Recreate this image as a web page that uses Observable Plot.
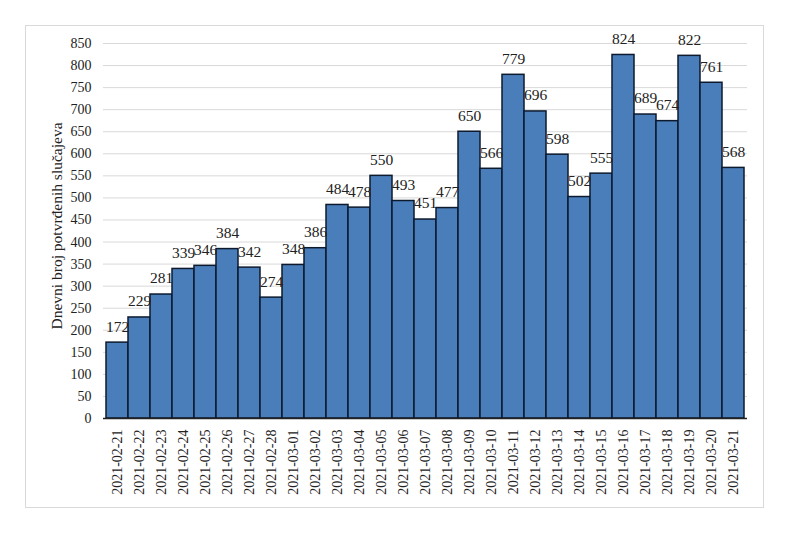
<!DOCTYPE html>
<html>
<head>
<meta charset="utf-8">
<script src="https://cdn.jsdelivr.net/npm/d3@7"></script>
<script src="https://cdn.jsdelivr.net/npm/@observablehq/plot@0.6"></script>
<style>
  html, body { margin: 0; padding: 0; background: #fff; }
  #chart { position: relative; width: 800px; height: 533px; }
</style>
</head>
<body>
<div id="chart"></div>
<script>
const dates = ["2021-02-21","2021-02-22","2021-02-23","2021-02-24","2021-02-25","2021-02-26","2021-02-27","2021-02-28","2021-03-01","2021-03-02","2021-03-03","2021-03-04","2021-03-05","2021-03-06","2021-03-07","2021-03-08","2021-03-09","2021-03-10","2021-03-11","2021-03-12","2021-03-13","2021-03-14","2021-03-15","2021-03-16","2021-03-17","2021-03-18","2021-03-19","2021-03-20","2021-03-21"];
const cases = [172,229,281,339,346,384,342,274,348,386,484,478,550,493,451,477,650,566,779,696,598,502,555,824,689,674,822,761,568];
const yTicks = [0,50,100,150,200,250,300,350,400,450,500,550,600,650,700,750,800,850];
const yTitle = "Dnevni broj potvrđenih slučajeva";

const data = dates.map((d, i) => ({date: d, value: cases[i]}));

const plot = Plot.plot({
  width: 800,
  height: 533,
  marginLeft: 103,
  marginRight: 53,
  marginTop: 43,
  marginBottom: 115,
  style: {fontSize: "14px", color: "#222", background: "#fff", fontFamily: "'Liberation Serif', serif"},
  x: {domain: dates, padding: 0, label: null},
  y: {domain: [0, 850], ticks: yTicks, label: null},
  marks: [
    Plot.gridY(yTicks, {stroke: "#d9d9d9", strokeOpacity: 1, strokeWidth: 1}),
    Plot.barY(data, {x: "date", y: "value", fill: "#4a7ebb", stroke: "#0d1a2e", strokeWidth: 1.5}),
    Plot.ruleY([0], {stroke: "#222", strokeWidth: 1.5}),
    Plot.text(data, {x: "date", y: "value", text: d => String(d.value), dy: -16, fontSize: 15.5, fill: "#222"}),
    Plot.axisY({ticks: yTicks, tickSize: 0, tickPadding: 12, fontSize: 14, label: null}),
    Plot.axisX({tickSize: 0, tickRotate: -90, tickPadding: 11, fontSize: 14, label: null})
  ]
});

const svg = d3.select(plot);
svg.insert("rect", ":first-child")
  .attr("x", 25.5).attr("y", 25.5).attr("width", 738).attr("height", 482)
  .attr("fill", "none").attr("stroke", "#d9d9d9");
svg.append("text")
  .attr("transform", "translate(62,226) rotate(-90)")
  .attr("text-anchor", "middle")
  .attr("font-size", 15.5)
  .attr("fill", "#222")
  .text(yTitle);
svg.style("font-family", "'Liberation Serif', serif");
svg.selectAll("text").style("font-family", "'Liberation Serif', serif");

document.getElementById("chart").appendChild(plot);
</script>
</body>
</html>
